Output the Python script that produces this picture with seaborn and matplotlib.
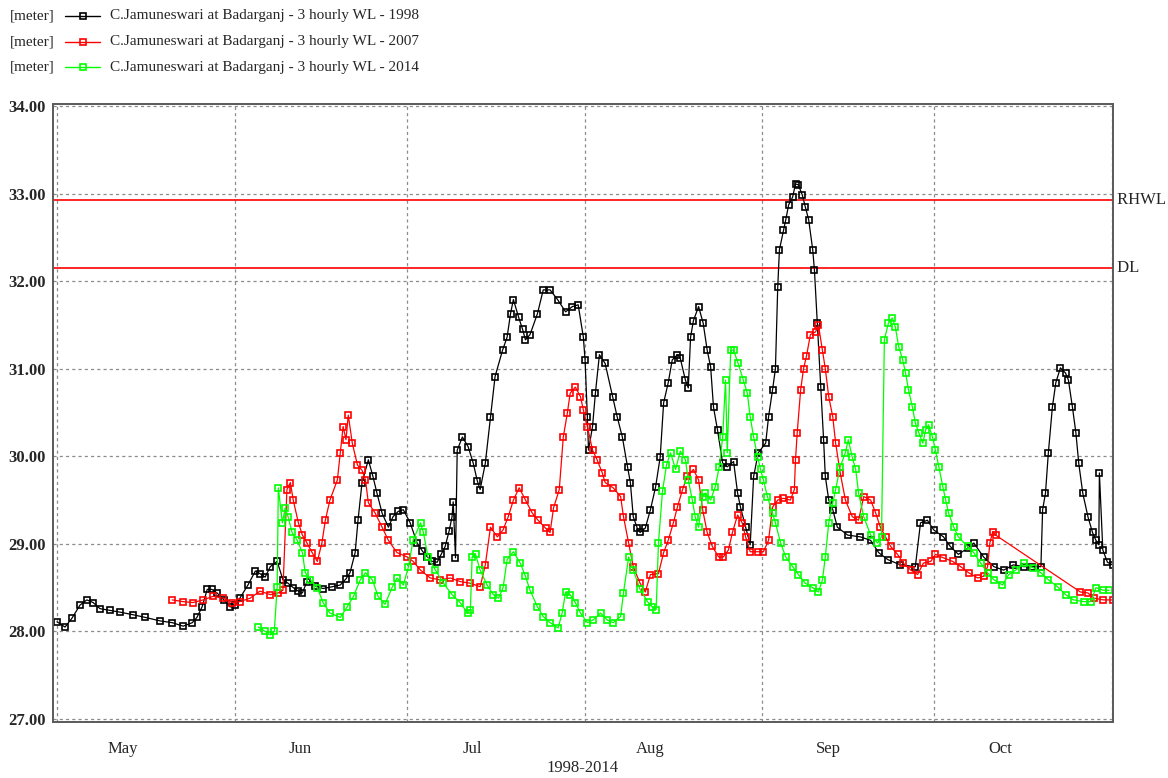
import numpy as np
import pandas as pd
import matplotlib
matplotlib.use("Agg")
import matplotlib.pyplot as plt
from matplotlib.lines import Line2D
import seaborn as sns

# ---------------- data (days since 1 May, water level in metres) ----------------
days_1998 = [0.0, 1.4, 2.6, 4.0, 5.2, 6.3, 7.5, 9.2, 11.0, 13.3, 15.4, 18.0, 20.1, 22.0, 23.6, 24.4,
             25.3, 26.2, 27.0, 27.9, 29.1, 30.2, 31.1, 31.9, 33.3, 34.6, 35.4, 36.3, 37.2, 38.4, 39.4,
             40.3, 41.2, 42.1, 42.8, 43.6, 45.0, 46.4, 48.0, 49.4, 50.4, 51.1, 52.0, 52.5, 53.2, 54.3,
             55.1, 55.8, 56.7, 57.8, 58.6, 59.5, 60.4, 61.6, 62.8, 63.7, 64.6, 65.4, 66.3, 67.0, 67.7,
             68.4, 68.9, 69.1, 69.5, 69.8, 70.7, 71.7, 72.6, 73.3, 73.8, 74.7, 75.6, 76.4, 77.7, 78.5,
             79.1, 79.6, 80.5, 81.2, 81.7, 82.5, 83.8, 84.8, 86.0, 87.3, 88.7, 89.9, 90.9, 91.8, 92.1,
             92.5, 92.7, 93.4, 93.9, 94.6, 95.6, 96.9, 97.7, 98.6, 99.5, 100.0, 100.5, 101.2, 101.7,
             102.6, 103.5, 104.4, 105.2, 105.8, 106.6, 107.3, 108.2, 108.7, 109.6, 110.1, 110.5, 111.0,
             111.9, 112.7, 113.4, 114.0, 114.5, 115.2, 116.1, 116.9, 118.0, 118.7, 119.2, 120.1, 120.9,
             121.5, 122.3, 123.6, 124.1, 124.8, 125.3, 125.7, 126.0, 126.7, 127.1, 127.6, 128.3, 128.8,
             129.3, 130.0, 130.5, 131.1, 131.8, 132.1, 132.6, 133.2, 133.7, 134.0, 134.6, 135.3, 136.1,
             137.9, 140.1, 141.9, 143.3, 144.9, 147.1, 149.7, 150.6, 151.8, 152.9, 154.6, 155.8, 157.2,
             158.8, 159.9, 161.6, 163.4, 165.1, 166.8, 168.6, 170.1, 171.6, 171.9, 172.4, 172.9, 173.6,
             174.2, 175.0, 175.9, 176.4, 177.1, 177.7, 178.2, 178.9, 179.8, 180.6, 181.2, 181.7, 181.8,
             182.4, 183.2, 184.1]
wl_1998 = [28.11, 28.05, 28.15, 28.30, 28.36, 28.33, 28.26, 28.24, 28.22, 28.19, 28.16, 28.12, 28.10,
           28.06, 28.10, 28.16, 28.28, 28.48, 28.48, 28.44, 28.36, 28.28, 28.30, 28.38, 28.53, 28.69,
           28.66, 28.62, 28.74, 28.80, 28.59, 28.55, 28.50, 28.46, 28.44, 28.57, 28.52, 28.49, 28.51,
           28.53, 28.60, 28.67, 28.90, 29.27, 29.70, 29.96, 29.77, 29.58, 29.35, 29.19, 29.31, 29.37,
           29.39, 29.24, 29.01, 28.92, 28.85, 28.80, 28.79, 28.88, 28.97, 29.15, 29.31, 29.48, 28.84,
           30.07, 30.22, 30.11, 29.92, 29.72, 29.62, 29.92, 30.45, 30.91, 31.21, 31.36, 31.63, 31.79,
           31.59, 31.45, 31.33, 31.39, 31.63, 31.90, 31.90, 31.79, 31.65, 31.71, 31.73, 31.36, 31.10,
           30.45, 30.07, 30.34, 30.72, 31.16, 31.06, 30.68, 30.45, 30.22, 29.88, 29.70, 29.31, 29.18,
           29.13, 29.18, 29.39, 29.65, 29.99, 30.61, 30.84, 31.10, 31.16, 31.12, 30.87, 30.78, 31.36,
           31.55, 31.71, 31.52, 31.21, 31.02, 30.56, 30.30, 29.92, 29.88, 29.94, 29.58, 29.42, 29.19,
           28.99, 29.77, 30.04, 30.15, 30.45, 30.76, 31.00, 31.93, 32.36, 32.58, 32.70, 32.87, 32.96,
           33.11, 33.10, 32.98, 32.85, 32.70, 32.36, 32.13, 31.52, 30.79, 30.19, 29.77, 29.50, 29.39,
           29.19, 29.10, 29.08, 29.04, 28.90, 28.82, 28.76, 28.74, 29.24, 29.27, 29.16, 29.08, 28.97,
           28.88, 28.95, 29.01, 28.85, 28.74, 28.70, 28.76, 28.74, 28.74, 28.74, 29.39, 29.58, 30.04,
           30.56, 30.84, 31.01, 30.95, 30.87, 30.56, 30.27, 29.92, 29.58, 29.31, 29.13, 29.04, 28.99,
           29.81, 28.93, 28.79, 28.76]

days_2007 = [20.1, 22.0, 23.7, 25.5, 27.2, 29.0, 30.5, 31.9, 33.7, 35.4, 37.2, 38.6, 39.4, 40.1, 40.7,
             41.2, 42.1, 42.8, 43.6, 44.5, 45.4, 46.2, 46.8, 47.6, 48.9, 49.4, 49.9, 50.4, 50.8, 51.5,
             52.4, 53.2, 53.8, 54.3, 55.5, 56.7, 57.8, 59.3, 61.1, 62.1, 63.4, 65.1, 66.8, 68.6, 70.3,
             72.1, 73.8, 74.7, 75.6, 76.8, 77.8, 78.7, 79.6, 80.6, 81.7, 82.9, 83.9, 85.2, 86.0, 86.6,
             87.6, 88.3, 89.0, 89.5, 90.4, 91.3, 91.8, 92.5, 93.4, 94.2, 95.1, 95.6, 97.0, 98.3, 98.8,
             99.7, 100.5, 101.7, 102.6, 103.5, 104.9, 105.8, 106.6, 107.5, 108.2, 109.1, 109.9, 111.0,
             111.9, 112.6, 113.4, 114.3, 115.4, 116.2, 117.1, 117.8, 118.7, 119.5, 120.1, 120.9, 122.2,
             123.2, 124.1, 124.8, 125.7, 126.7, 127.9, 128.6, 128.8, 129.1, 129.7, 130.2, 130.7, 131.4,
             132.3, 132.8, 133.5, 134.0, 134.6, 135.3, 135.8, 136.6, 137.5, 138.7, 139.8, 140.7, 141.9,
             142.8, 143.6, 144.5, 145.4, 146.6, 147.6, 148.9, 150.1, 151.1, 152.4, 153.2, 154.6, 156.2,
             157.6, 159.0, 160.6, 161.6, 162.3, 162.7, 163.2, 163.7, 178.5, 179.8, 180.8, 182.5, 184.1]
wl_2007 = [28.36, 28.34, 28.33, 28.36, 28.40, 28.38, 28.33, 28.34, 28.38, 28.46, 28.42, 28.44, 28.47,
           29.62, 29.70, 29.50, 29.24, 29.10, 29.01, 28.90, 28.80, 29.01, 29.27, 29.50, 29.73, 30.04,
           30.34, 30.19, 30.47, 30.15, 29.90, 29.84, 29.73, 29.47, 29.35, 29.19, 29.04, 28.90, 28.85,
           28.80, 28.70, 28.61, 28.59, 28.61, 28.57, 28.55, 28.51, 28.76, 29.19, 29.08, 29.16, 29.31,
           29.50, 29.64, 29.50, 29.35, 29.27, 29.18, 29.13, 29.41, 29.62, 30.22, 30.49, 30.72, 30.79,
           30.68, 30.53, 30.34, 30.07, 29.96, 29.81, 29.70, 29.64, 29.54, 29.31, 29.01, 28.74, 28.55,
           28.45, 28.65, 28.66, 28.90, 29.04, 29.24, 29.42, 29.62, 29.77, 29.85, 29.73, 29.39, 29.13,
           28.97, 28.85, 28.85, 28.93, 29.13, 29.33, 29.24, 29.08, 28.91, 28.91, 28.91, 29.04, 29.42,
           29.50, 29.52, 29.50, 29.62, 29.96, 30.27, 30.76, 31.00, 31.14, 31.39, 31.42, 31.50, 31.21,
           31.00, 30.68, 30.45, 30.15, 29.81, 29.50, 29.31, 29.27, 29.54, 29.50, 29.35, 29.19, 29.08,
           28.97, 28.88, 28.78, 28.70, 28.65, 28.78, 28.80, 28.88, 28.84, 28.80, 28.74, 28.67, 28.61,
           28.63, 28.74, 29.01, 29.14, 29.10, 28.45, 28.44, 28.38, 28.36, 28.36]

days_2014 = [35.1, 36.3, 37.2, 37.9, 38.4, 38.6, 39.3, 39.8, 40.3, 41.0, 41.9, 42.8, 43.3, 44.2, 45.4,
             46.4, 47.6, 49.4, 50.6, 51.7, 52.9, 53.8, 55.0, 56.0, 57.2, 58.5, 59.3, 60.4, 61.3, 62.1,
             63.4, 63.9, 64.7, 66.0, 67.4, 68.9, 70.3, 71.6, 72.1, 72.4, 73.0, 73.8, 75.0, 76.1, 77.0,
             77.8, 78.5, 79.6, 80.8, 81.7, 82.5, 83.8, 84.8, 86.0, 87.4, 88.1, 88.7, 89.5, 90.4, 91.3,
             92.5, 93.5, 94.8, 96.0, 97.0, 98.3, 98.8, 99.7, 100.5, 101.7, 103.0, 103.8, 104.5, 104.9,
             105.6, 106.3, 107.0, 107.9, 108.7, 109.6, 110.1, 110.8, 111.3, 111.9, 112.6, 113.1, 114.0,
             114.8, 115.5, 116.1, 116.6, 116.9, 117.5, 118.0, 118.8, 119.7, 120.4, 120.9, 121.5, 122.2,
             122.7, 123.2, 123.9, 124.8, 125.3, 126.2, 127.1, 128.3, 129.3, 130.5, 131.8, 132.8, 133.5,
             134.0, 134.6, 135.3, 135.8, 136.6, 137.5, 138.0, 138.7, 139.3, 139.8, 140.7, 141.9, 143.1,
             143.8, 144.3, 145.0, 145.7, 146.2, 146.8, 147.5, 148.0, 148.5, 149.2, 149.7, 150.3, 151.0,
             151.5, 152.0, 152.7, 153.2, 153.8, 154.5, 155.0, 155.5, 156.4, 157.2, 158.8, 159.9, 161.1,
             162.3, 163.4, 164.9, 166.0, 167.2, 168.6, 170.2, 171.6, 172.9, 174.5, 175.9, 177.3, 179.1,
             180.3, 181.2, 182.5, 183.5]
wl_2014 = [28.05, 28.00, 27.96, 28.00, 28.51, 29.64, 29.24, 29.41, 29.31, 29.13, 29.04, 28.90, 28.67,
           28.59, 28.50, 28.33, 28.21, 28.16, 28.28, 28.40, 28.59, 28.67, 28.59, 28.40, 28.31, 28.51,
           28.61, 28.53, 28.74, 29.04, 29.24, 29.13, 28.85, 28.70, 28.55, 28.42, 28.33, 28.21, 28.25,
           28.85, 28.88, 28.70, 28.53, 28.42, 28.38, 28.50, 28.82, 28.91, 28.78, 28.63, 28.47, 28.28,
           28.17, 28.10, 28.04, 28.21, 28.45, 28.42, 28.33, 28.21, 28.10, 28.13, 28.21, 28.13, 28.10,
           28.17, 28.44, 28.85, 28.70, 28.48, 28.34, 28.28, 28.25, 29.01, 29.60, 29.90, 30.04, 29.85,
           30.06, 29.96, 29.73, 29.50, 29.31, 29.19, 29.54, 29.58, 29.50, 29.65, 29.88, 30.22, 30.87,
           30.04, 31.21, 31.21, 31.06, 30.87, 30.72, 30.45, 30.22, 29.99, 29.85, 29.73, 29.54, 29.35,
           29.24, 29.01, 28.85, 28.74, 28.65, 28.55, 28.50, 28.45, 28.59, 28.85, 29.24, 29.47, 29.62,
           29.88, 30.04, 30.19, 29.99, 29.85, 29.58, 29.31, 29.10, 29.01, 29.08, 31.33, 31.52, 31.58,
           31.48, 31.25, 31.10, 30.95, 30.76, 30.56, 30.38, 30.27, 30.15, 30.30, 30.36, 30.22, 30.07,
           29.88, 29.65, 29.50, 29.35, 29.19, 29.08, 28.97, 28.90, 28.78, 28.67, 28.59, 28.53, 28.65,
           28.70, 28.78, 28.73, 28.67, 28.59, 28.51, 28.42, 28.36, 28.34, 28.34, 28.50, 28.47, 28.47]

series_names = ["C.Jamuneswari at Badarganj - 3 hourly WL - 1998",
                "C.Jamuneswari at Badarganj - 3 hourly WL - 2007",
                "C.Jamuneswari at Badarganj - 3 hourly WL - 2014"]
series_colors = ["#000000", "#ff0000", "#00ff00"]
unit_label = "[meter]"
rhwl_level = 32.93
dl_level = 32.15
ref_labels = ["RHWL", "DL"]
month_starts = [0, 31, 61, 92, 123, 153, 184]
month_labels = ["May", "Jun", "Jul", "Aug", "Sep", "Oct"]
y_ticks = [27, 28, 29, 30, 31, 32, 33, 34]
x_title = "1998-2014"

# ---------------- figure ----------------
sns.set_theme(style="white")
plt.rcParams['font.family'] = ['Liberation Serif', 'DejaVu Serif']

W, H = 1168, 778
fig = plt.figure(figsize=(W / 100, H / 100), dpi=100)
ax_l, ax_r, ax_t, ax_b = 53, 1113, 104, 722
ax = fig.add_axes([ax_l / W, 1 - ax_b / H, (ax_r - ax_l) / W, (ax_b - ax_t) / H])

pxd = (1112 - 57) / 184.0
pxm = (719 - 106) / 7.0
ax.set_xlim(0 - (57 - ax_l) / pxd, 184 + (ax_r - 1112) / pxd)
ax.set_ylim(27 - (ax_b - 719) / pxm, 34 + (106 - ax_t) / pxm)

all_days = [days_1998, days_2007, days_2014]
all_wl = [wl_1998, wl_2007, wl_2014]
for d, v, c, n in zip(all_days, all_wl, series_colors, series_names):
    df = pd.DataFrame({"day": d, "level": v})
    sns.lineplot(data=df, x="day", y="level", ax=ax, color=c, linewidth=0.9,
                 marker="s", markersize=4.6, markerfacecolor="none",
                 markeredgecolor=c, markeredgewidth=1.2, legend=False,
                 estimator=None, sort=False)

ax.axhline(rhwl_level, color="#ff0000", linewidth=1.2, zorder=1)
ax.axhline(dl_level, color="#ff0000", linewidth=1.2, zorder=1)
trans = ax.get_yaxis_transform()
ax.text(1.0, rhwl_level, " " + ref_labels[0], transform=trans, ha="left", va="center", fontsize=12)
ax.text(1.0, dl_level, " " + ref_labels[1], transform=trans, ha="left", va="center", fontsize=12)

# grid & ticks
ax.set_yticks(y_ticks)
ax.set_yticklabels([f"{t:.2f}" for t in y_ticks], fontsize=12, fontweight="bold")
ax.set_xticks(month_starts)
ax.set_xticklabels([])
ax.set_xticks([m + 11.5 for m in month_starts[:-1]], minor=True)
ax.set_xticklabels(month_labels, minor=True, fontsize=12)
ax.tick_params(axis="x", which="minor", length=0, pad=14)
ax.tick_params(axis="x", which="major", length=3, width=0.8, color="#808080", direction="out")
ax.tick_params(axis="y", length=3, width=0.8, color="#808080", direction="out", pad=2)
ax.grid(True, which="major", linestyle=(0, (2.5, 2.5)), color="#8c8c8c", linewidth=0.9)
ax.set_axisbelow(True)
for sp in ax.spines.values():
    sp.set_color("#5a5a5a")
    sp.set_linewidth(1.4)
ax.set_xlabel(x_title, fontsize=12, labelpad=2)
ax.set_ylabel("")

# legend (manual, figure coordinates)
rows_y = [16, 42, 67]
for ry, c, n in zip(rows_y, series_colors, series_names):
    yf = 1 - ry / H
    fig.text(10 / W, yf, unit_label, ha="left", va="center", fontsize=11)
    fig.add_artist(Line2D([65 / W, 100 / W], [yf, yf], color=c, linewidth=1.0,
                          transform=fig.transFigure))
    fig.add_artist(Line2D([83 / W], [yf], color=c, marker="s", markersize=4.6,
                          markerfacecolor="none", markeredgecolor=c, markeredgewidth=1.2,
                          transform=fig.transFigure))
    fig.text(110 / W, yf, n, ha="left", va="center", fontsize=11)

fig.savefig("out.png", dpi=100)
